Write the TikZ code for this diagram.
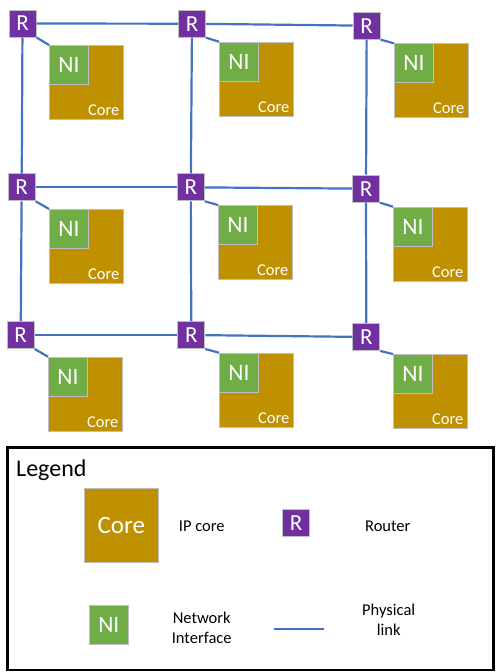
\documentclass[tikz,border=0pt]{standalone}
\usepackage{fontspec}
\setmainfont{Carlito}
\definecolor{coregold}{HTML}{BF9000}
\definecolor{nigreen}{HTML}{70AD47}
\definecolor{rpurple}{HTML}{7030A0}
\definecolor{linkblue}{HTML}{4472C4}
\definecolor{bordergray}{HTML}{BFBFBF}
\tikzset{
  corebox/.style={draw=bordergray, fill=coregold, minimum size=74pt, inner sep=0pt, line width=1pt},
  nibox/.style={draw=bordergray, fill=nigreen, minimum size=39pt, inner sep=0pt, line width=1pt, text=white, font=\fontsize{23.5}{24}\selectfont},
  router/.style={draw=bordergray, fill=rpurple, minimum size=27pt, inner sep=0pt, line width=1pt, text=white, font=\fontsize{23}{24}\selectfont},
  corelabel/.style={anchor=south east, inner xsep=4.5pt, inner ysep=4pt, text=white, font=\fontsize{16.5}{17}\selectfont},
  link/.style={draw=linkblue, line width=2.2pt},
  legtext/.style={font=\fontsize{16.5}{20}\selectfont, align=center, text=black},
}
\begin{document}
\begin{tikzpicture}[x=1pt, y=-1pt]
\useasboundingbox (0,0) rectangle (497,672);
% routers
\foreach \n/\x/\y in {r11/22.5/23.5, r12/192/23.7, r13/366.7/25.7, r21/21.7/187.3, r22/190.8/187.3, r23/366/188.7, r31/20.7/335, r32/191.3/335, r33/366.3/337}{
  \node[router] (\n) at (\x,\y) {R};
}
% cores and network interfaces
\foreach \n/\x/\y in {11/49/45, 12/219/41.7, 13/394/43.3, 21/49/209, 22/218/205, 23/393/206.7, 31/48/356.7, 32/219/352.7, 33/393/354}{
  \node[corebox, anchor=north west] (c\n) at (\x,\y) {};
  \node[corelabel] (cl\n) at (c\n.south east) {Core};
  \node[nibox, anchor=north west] (ni\n) at (\x,\y) {NI};
  \draw[link] (r\n.south east) -- (ni\n.north west);
}
% mesh links
\draw[link] (r11) -- (r12);
\draw[link] (r12) -- (r13);
\draw[link] (r21) -- (r22);
\draw[link] (r22) -- (r23);
\draw[link] (r31) -- (r32);
\draw[link] (r32) -- (r33);
\draw[link] (r11) -- (r21);
\draw[link] (r21) -- (r31);
\draw[link] (r12) -- (r22);
\draw[link] (r22) -- (r32);
\draw[link] (r13) -- (r23);
\draw[link] (r23) -- (r33);
% legend
\node[draw=black, line width=2.5pt, minimum width=486pt, minimum height=222.7pt, inner sep=0pt] (legend) at (250.3,558.65) {};
\node[anchor=base west, inner sep=0pt, font=\fontsize{24}{26}\selectfont] (legtitle) at (16,476.7) {Legend};
\node[corebox, text=white, font=\fontsize{25}{26}\selectfont] (lcore) at (121.3,525.7) {Core};
\node[legtext] (lcoret) at (201.7,526) {IP core};
\node[router] (lr) at (296,522.7) {R};
\node[legtext] (lrt) at (387.8,526) {Router};
\node[nibox] (lni) at (108.8,624.8) {NI};
\node[legtext] (lnit) at (201.7,628.3) {Network\\Interface};
\coordinate (la) at (274,629.3);
\coordinate (lb) at (324,629.3);
\draw[draw=linkblue, line width=2pt] (la) -- (lb);
\node[legtext] (llt) at (388.7,620) {Physical\\link};
\end{tikzpicture}
\end{document}
